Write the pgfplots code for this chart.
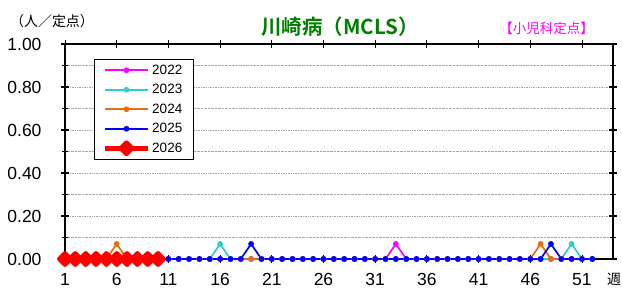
\documentclass[border=0pt]{standalone}
\usepackage{pgfplots}
\pgfplotsset{compat=1.18}
\usepackage{fontspec}
\setmainfont{Liberation Sans}
\newfontfamily\jp{Noto Sans CJK JP}
\newfontfamily\jpb{Noto Sans CJK JP Bold}
\definecolor{c22}{RGB}{255,0,255}
\definecolor{c23}{RGB}{51,204,204}
\definecolor{c24}{RGB}{230,110,20}
\definecolor{c25}{RGB}{0,0,255}
\definecolor{c26}{RGB}{255,0,0}
\definecolor{tgreen}{RGB}{0,128,0}
\begin{document}
\begin{tikzpicture}
\path[use as bounding box] (0pt,0pt) rectangle (622pt,289pt);
\begin{axis}[
  at={(65pt,30pt)}, anchor=south west,
  scale only axis, width=548pt, height=215pt,
  xmin=1, xmax=54, ymin=0, ymax=1,
  clip=false,
  axis line style={line width=1.3pt},
  xtick={1,6,...,51},
  ytick={0,0.2,...,1.0},
  minor y tick num=1,
  ymajorgrids, yminorgrids,
  grid style={densely dotted, gray!70, line width=0.7pt},
  major grid style={densely dotted, gray!70, line width=0.7pt},
  tick align=center, major tick length=8pt, minor tick length=6pt,
  tick style={black, line width=1.2pt},
  xtick style={line width=0.8pt},
  /pgf/number format/assume math mode=true,
  yticklabel={\pgfmathprintnumber[fixed,fixed zerofill,precision=2]{\tick}},
  ticklabel style={font=\fontsize{17.5}{18}\selectfont},
  yticklabel style={xshift=-16pt},
  xticklabel style={yshift=-7pt},
  legend style={at={(0.053,0.93)}, anchor=north west, draw=black,
    font=\fontsize{13.5}{15}\selectfont, row sep=4.6pt, inner xsep=8.5pt, inner ysep=3.5pt,
    nodes={inner ysep=2pt}},
  legend cell align=left,
  legend image code/.code={\draw[mark repeat=2,mark phase=2] plot coordinates {(0pt,0pt) (21.5pt,0pt) (43pt,0pt)};},
]
\addplot[c22, line width=1.7pt, mark=*, mark size=2pt] coordinates {
(1,0)(2,0)(3,0)(4,0)(5,0)(6,0)(7,0)(8,0)(9,0)(10,0)(11,0)(12,0)(13,0)(14,0)(15,0)(16,0)(17,0)(18,0)(19,0)(20,0)(21,0)(22,0)(23,0)(24,0)(25,0)(26,0)(27,0)(28,0)(29,0)(30,0)(31,0)(32,0)(33,0.07)(34,0)(35,0)(36,0)(37,0)(38,0)(39,0)(40,0)(41,0)(42,0)(43,0)(44,0)(45,0)(46,0)(47,0)(48,0)(49,0)(50,0)(51,0)(52,0)};
\addlegendentry{2022}
\addplot[c23, line width=1.7pt, mark=*, mark size=2pt] coordinates {
(1,0)(2,0)(3,0)(4,0)(5,0)(6,0)(7,0)(8,0)(9,0)(10,0)(11,0)(12,0)(13,0)(14,0)(15,0)(16,0.07)(17,0)(18,0)(19,0)(20,0)(21,0)(22,0)(23,0)(24,0)(25,0)(26,0)(27,0)(28,0)(29,0)(30,0)(31,0)(32,0)(33,0)(34,0)(35,0)(36,0)(37,0)(38,0)(39,0)(40,0)(41,0)(42,0)(43,0)(44,0)(45,0)(46,0)(47,0)(48,0)(49,0)(50,0.07)(51,0)(52,0)};
\addlegendentry{2023}
\addplot[c24, line width=1.7pt, mark=*, mark size=2pt] coordinates {
(1,0)(2,0)(3,0)(4,0)(5,0)(6,0.07)(7,0)(8,0)(9,0)(10,0)(11,0)(12,0)(13,0)(14,0)(15,0)(16,0)(17,0)(18,0)(19,0)(20,0)(21,0)(22,0)(23,0)(24,0)(25,0)(26,0)(27,0)(28,0)(29,0)(30,0)(31,0)(32,0)(33,0)(34,0)(35,0)(36,0)(37,0)(38,0)(39,0)(40,0)(41,0)(42,0)(43,0)(44,0)(45,0)(46,0)(47,0.07)(48,0)(49,0)(50,0)(51,0)(52,0)};
\addlegendentry{2024}
\addplot[c25, line width=1.7pt, mark=*, mark size=2pt] coordinates {
(1,0)(2,0)(3,0)(4,0)(5,0)(6,0)(7,0)(8,0)(9,0)(10,0)(11,0)(12,0)(13,0)(14,0)(15,0)(16,0)(17,0)(18,0)(19,0.07)(20,0)(21,0)(22,0)(23,0)(24,0)(25,0)(26,0)(27,0)(28,0)(29,0)(30,0)(31,0)(32,0)(33,0)(34,0)(35,0)(36,0)(37,0)(38,0)(39,0)(40,0)(41,0)(42,0)(43,0)(44,0)(45,0)(46,0)(47,0)(48,0.07)(49,0)(50,0)(51,0)(52,0)};
\addlegendentry{2025}
\addplot[c26, line width=4.5pt, mark=square*, mark size=4pt, mark options={rotate=45, line join=round}] coordinates {
(1,0)(2,0)(3,0)(4,0)(5,0)(6,0)(7,0)(8,0)(9,0)(10,0)};
\addlegendentry{2026}
\end{axis}
\node[font=\jp\fontsize{14}{15}\selectfont] at (52pt,268pt) {（人／定点）};
\node[font=\jpb\fontsize{20.5}{22}\selectfont, text=tgreen] at (340pt,262pt) {川崎病（MCLS）};
\node[font=\jp\fontsize{13.5}{15}\selectfont, text=c22] at (546.5pt,260.5pt) {【小児科定点】};
\node[font=\jp\fontsize{14}{15}\selectfont] at (614pt,9.5pt) {週};
\end{tikzpicture}
\end{document}
